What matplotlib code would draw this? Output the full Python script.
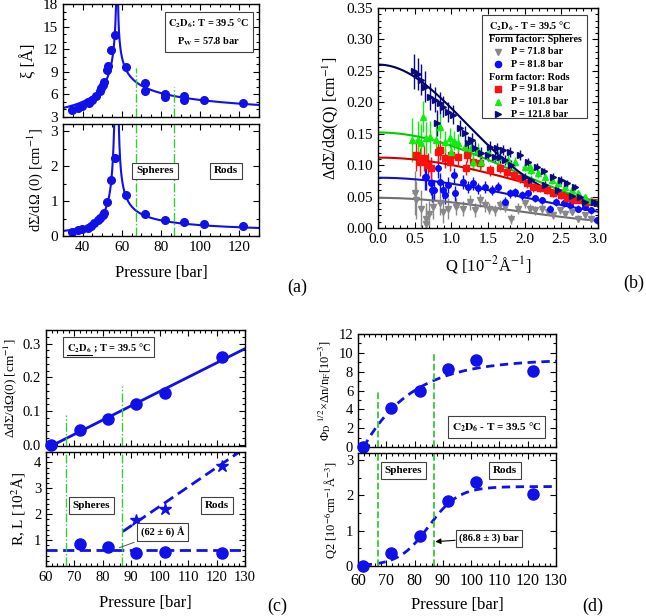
import numpy as np
import matplotlib
matplotlib.use('Agg')
import matplotlib.pyplot as plt
from matplotlib.ticker import MultipleLocator, FormatStrFormatter

plt.rcParams['font.family'] = ['Liberation Serif', 'DejaVu Serif']
plt.rcParams['mathtext.fontset'] = 'stix'
plt.rcParams['xtick.direction'] = 'in'
plt.rcParams['ytick.direction'] = 'in'
plt.rcParams['xtick.top'] = True
plt.rcParams['ytick.right'] = True
plt.rcParams['xtick.major.size'] = 4
plt.rcParams['ytick.major.size'] = 4
plt.rcParams['xtick.minor.size'] = 2
plt.rcParams['ytick.minor.size'] = 2
plt.rcParams['xtick.minor.visible'] = True
plt.rcParams['ytick.minor.visible'] = True

# ===== (a) correlation length and forward scattering vs pressure =====
P_W = 57.8
xi_p = [34.8, 37.7, 39.8, 43.0, 43.5, 44.7, 46.8, 48.8, 49.3, 50.2, 50.7, 52.7,
        53.0, 54.3, 56.3, 62.3, 71.8, 71.8, 81.8, 81.8, 91.8, 91.8, 101.8, 121.8]
xi_v = [3.9, 4.2, 4.4, 5.0, 4.8, 5.3, 5.8, 6.5, 6.8, 7.3, 7.7, 9.3,
        9.8, 11.9, 13.9, 9.6, 7.5, 6.5, 6.1, 5.6, 5.8, 5.3, 5.3, 4.9]
dS_p = [34.8, 37.7, 39.8, 43.0, 44.3, 46.0, 47.7, 48.8, 50.2, 50.7, 52.7, 54.3,
        56.3, 62.3, 71.8, 81.8, 91.8, 101.8, 121.8]
dS_v = [0.12, 0.16, 0.20, 0.24, 0.29, 0.36, 0.45, 0.52, 0.60, 0.65, 0.98, 1.59,
        2.24, 1.18, 0.62, 0.45, 0.39, 0.33, 0.28]
# fit parameters (amplitude, exponent) below / above P_W
xi_fit = {'low': (3.13, 0.40), 'high': (4.86, 0.25)}
dS_fit = {'low': (0.0648, 1.10), 'high': (0.26, 0.566)}

# ===== (b) scattering curves =====
q_gray = [0.50, 0.52, 0.59, 0.66, 0.66, 0.70, 0.75, 0.84, 0.89, 0.95, 1.07, 1.16,
          1.25, 1.32, 1.39, 1.46, 1.52, 1.59, 1.66, 1.73, 1.82, 1.91, 2.00, 2.07,
          2.14, 2.23, 2.32, 2.39, 2.48, 2.55, 2.64, 2.73, 2.82, 2.91]
i_gray = [0.055, 0.045, 0.031, 0.015, 0.007, 0.023, 0.034, 0.039, 0.026, 0.031, 0.034, 0.031,
          0.041, 0.028, 0.044, 0.036, 0.031, 0.028, 0.036, 0.034, 0.015, 0.031, 0.039, 0.031,
          0.028, 0.031, 0.026, 0.020, 0.028, 0.023, 0.026, 0.015, 0.020, 0.015]
e_gray = [0.035, 0.03, 0.03, 0.025, 0.025, 0.02, 0.02, 0.018, 0.018, 0.016, 0.014, 0.012,
          0.012, 0.011, 0.01, 0.01, 0.009, 0.009, 0.008, 0.008, 0.008, 0.008, 0.007, 0.007,
          0.007, 0.007, 0.006, 0.006, 0.006, 0.006, 0.006, 0.006, 0.006, 0.006]

q_blue = [0.64, 0.66, 0.72, 0.73, 0.77, 0.82, 0.84, 0.89, 0.91, 0.95, 1.03, 1.05,
          1.16, 1.23, 1.30, 1.36, 1.46, 1.55, 1.64, 1.73, 1.80, 1.87, 1.96, 2.05,
          2.14, 2.23, 2.34, 2.43, 2.53, 2.62, 2.73, 2.82, 2.91, 2.98]
i_blue = [0.081, 0.081, 0.071, 0.060, 0.060, 0.096, 0.073, 0.060, 0.052, 0.068, 0.084, 0.055,
          0.073, 0.065, 0.071, 0.063, 0.065, 0.060, 0.065, 0.041, 0.055, 0.057, 0.052, 0.055,
          0.047, 0.044, 0.031, 0.041, 0.039, 0.036, 0.031, 0.034, 0.028, 0.012]
e_blue = [0.02, 0.02, 0.018, 0.018, 0.016, 0.016, 0.015, 0.014, 0.014, 0.013, 0.012, 0.012,
          0.011, 0.01, 0.01, 0.009, 0.009, 0.008, 0.008, 0.008, 0.007, 0.007, 0.007, 0.006,
          0.006, 0.006, 0.006, 0.006, 0.005, 0.005, 0.005, 0.005, 0.005, 0.005]

q_red = [0.52, 0.57, 0.63, 0.68, 0.72, 0.82, 0.84, 0.91, 0.98, 1.00, 1.09, 1.20,
         1.21, 1.30, 1.39, 1.53, 1.66, 1.76, 1.85, 1.94, 2.03, 2.12, 2.21, 2.30,
         2.39, 2.49, 2.58, 2.67, 2.76, 2.85, 2.94]
i_red = [0.116, 0.105, 0.111, 0.100, 0.095, 0.121, 0.124, 0.111, 0.105, 0.116, 0.113, 0.095,
         0.116, 0.105, 0.103, 0.092, 0.095, 0.089, 0.084, 0.079, 0.071, 0.065, 0.063, 0.060,
         0.055, 0.052, 0.047, 0.044, 0.044, 0.041, 0.041]
e_red = [0.025, 0.022, 0.02, 0.02, 0.018, 0.016, 0.016, 0.015, 0.014, 0.013, 0.012, 0.011,
         0.011, 0.01, 0.01, 0.009, 0.008, 0.008, 0.008, 0.007, 0.007, 0.007, 0.006, 0.006,
         0.006, 0.006, 0.005, 0.005, 0.005, 0.005, 0.005]

q_green = [0.47, 0.54, 0.59, 0.62, 0.66, 0.71, 0.79, 0.84, 0.91, 0.98, 1.00, 1.04,
           1.09, 1.18, 1.27, 1.30, 1.36, 1.40, 1.50, 1.64, 1.77, 1.87, 2.00, 2.07,
           2.09, 2.18, 2.28, 2.37, 2.46, 2.55, 2.64, 2.73, 2.82, 2.91, 2.98]
i_green = [0.140, 0.140, 0.135, 0.177, 0.143, 0.145, 0.140, 0.161, 0.137, 0.143, 0.121, 0.139,
           0.135, 0.129, 0.127, 0.105, 0.124, 0.105, 0.121, 0.113, 0.108, 0.105, 0.097, 0.097,
           0.092, 0.087, 0.081, 0.076, 0.071, 0.065, 0.060, 0.055, 0.049, 0.044, 0.041]
e_green = [0.035, 0.03, 0.03, 0.025, 0.025, 0.025, 0.022, 0.02, 0.018, 0.016, 0.015, 0.015,
           0.014, 0.013, 0.012, 0.012, 0.011, 0.011, 0.01, 0.009, 0.008, 0.008, 0.007, 0.007,
           0.007, 0.007, 0.006, 0.006, 0.006, 0.006, 0.005, 0.005, 0.005, 0.005, 0.005]

q_navy = [0.49, 0.55, 0.59, 0.64, 0.71, 0.78, 0.80, 0.84, 0.89, 0.95, 1.02, 1.12,
          1.19, 1.23, 1.28, 1.32, 1.40, 1.50, 1.53, 1.59, 1.66, 1.73, 1.82, 1.94,
          2.00, 2.09, 2.17, 2.28, 2.39, 2.46, 2.58, 2.64, 2.76, 2.82, 2.94, 2.98,
          1.62, 1.70, 1.80, 2.05, 2.27, 2.50, 2.68]
i_navy = [0.249, 0.245, 0.236, 0.225, 0.209, 0.204, 0.167, 0.199, 0.193, 0.185, 0.180, 0.159,
          0.151, 0.135, 0.140, 0.127, 0.119, 0.116, 0.129, 0.113, 0.113, 0.108, 0.100, 0.116,
          0.081, 0.076, 0.097, 0.068, 0.081, 0.060, 0.071, 0.051, 0.049, 0.041, 0.041, 0.039,
          0.127, 0.124, 0.121, 0.105, 0.090, 0.076, 0.065]
e_navy = [0.028, 0.026, 0.025, 0.024, 0.022, 0.02, 0.02, 0.018, 0.017, 0.016, 0.015, 0.013,
          0.012, 0.012, 0.011, 0.011, 0.01, 0.01, 0.01, 0.009, 0.009, 0.008, 0.008, 0.008,
          0.007, 0.007, 0.007, 0.006, 0.006, 0.006, 0.006, 0.006, 0.005, 0.005, 0.005, 0.005,
          0.009, 0.008, 0.008, 0.007, 0.006, 0.006, 0.005]

# form factor fits: I(0), decay constant, flat background
fits_b = {
    '71.8': (0.048, 0.16, 0.0),
    '81.8': (0.080, 0.125, 0.0),
    '91.8': (0.112, 0.11, 0.0),
    '101.8': (0.152, 0.15, 0.0),
    '121.8': (0.26, 0.35, 0.025),
}

# ===== (c) intensity, radius and length =====
SPHERE_P = 67.0
ROD_P = 86.8
c_p = [61.8, 71.8, 81.8, 91.8, 101.8, 121.8]
c_dI = [0.0, 0.045, 0.078, 0.12, 0.153, 0.26]
dI_slope, dI_p0 = 0.00422, 62.5
R_p = [71.8, 81.8, 91.8, 101.8, 121.8]
R_v = [0.83, 0.72, 0.50, 0.55, 0.52]
L_p = [91.8, 101.8, 121.8]
L_v = [1.78, 2.20, 3.85]
R_mean = 0.62
L_line_p = [87.0, 130.0]
L_line_v = [1.33, 4.55]

# ===== (d) amplitude and Q2 =====
d_p = [61.8, 71.8, 81.8, 91.8, 101.8, 121.8]
phi_v = [0.0, 4.1, 5.9, 8.3, 9.2, 8.1]
q2_v = [0.0, 0.37, 0.85, 1.83, 2.38, 2.05]
phi_fit = (9.3, 62.0, 17.4)     # plateau, onset, width
q2_fit = (2.25, 85.0, 5.3)      # plateau, midpoint, width

BLUE = '#1010e8'
LGREEN = '#33cc33'
BOX = dict(boxstyle='square,pad=0.35', fc='white', ec='#404040', lw=0.8)

W, H = 646, 616
fig = plt.figure(figsize=(W / 100, H / 100), dpi=100)


def add_ax(l, t, r, b):
    return fig.add_axes([l / W, 1 - b / H, (r - l) / W, (b - t) / H])


def style(ax, fs=11):
    ax.tick_params(which='both', labelsize=fs, width=0.8)
    for s in ax.spines.values():
        s.set_linewidth(1.0)


def underline(ax, txt):
    fig.canvas.draw()
    bb = txt.get_window_extent()
    y = (bb.y0 - 1.5) / H
    fig.add_artist(plt.Line2D([bb.x0 / W, bb.x1 / W], [y, y], color='black', lw=0.8))


# ---------- (a) ----------
ax = add_ax(63, 4, 259, 117)
p_lo = np.linspace(30, P_W - 0.01, 600)
p_hi = np.linspace(P_W + 0.01, 130, 600)
ax.plot(p_lo, xi_fit['low'][0] * (1 - p_lo / P_W) ** (-xi_fit['low'][1]), color=BLUE, lw=1.5)
ax.plot(p_hi, xi_fit['high'][0] * (p_hi / P_W - 1) ** (-xi_fit['high'][1]), color=BLUE, lw=1.5)
ax.plot(xi_p, xi_v, 'o', color=BLUE, ms=5.5)
ax.vlines(SPHERE_P, 3, 9.5, color=LGREEN, ls='-.', lw=1)
ax.vlines(ROD_P, 3, 7.0, color=LGREEN, ls='-.', lw=1)
ax.set_xlim(30, 130)
ax.set_ylim(3, 18)
ax.yaxis.set_major_locator(MultipleLocator(3))
ax.xaxis.set_major_locator(MultipleLocator(20))
ax.xaxis.set_minor_locator(MultipleLocator(5))
ax.yaxis.set_minor_locator(MultipleLocator(1))
ax.set_xticklabels([])
ax.set_ylabel('ξ [Å]', fontsize=12)
ax.text(0.745, 0.75, '$\\mathbf{C_2D_6}$: T = 39.5 °C\nP$_\\mathbf{W}$ = 57.8 bar', transform=ax.transAxes,
        ha='center', va='center', fontsize=7.5, fontweight='bold', bbox=BOX, linespacing=1.7)
style(ax)

ax = add_ax(63, 124, 259, 236)
ax.plot(p_lo, dS_fit['low'][0] * (1 - p_lo / P_W) ** (-dS_fit['low'][1]), color=BLUE, lw=1.5)
ax.plot(p_hi, dS_fit['high'][0] * (p_hi / P_W - 1) ** (-dS_fit['high'][1]), color=BLUE, lw=1.5)
ax.plot(dS_p, dS_v, 'o', color=BLUE, ms=5.5)
ax.axvline(SPHERE_P, color=LGREEN, ls='-.', lw=1)
ax.axvline(ROD_P, color=LGREEN, ls='-.', lw=1)
ax.set_xlim(30, 130)
ax.set_ylim(0, 3.2)
ax.xaxis.set_major_locator(MultipleLocator(20))
ax.xaxis.set_minor_locator(MultipleLocator(5))
ax.yaxis.set_major_locator(MultipleLocator(1))
ax.yaxis.set_minor_locator(MultipleLocator(0.5))
ax.text(77, 1.86, 'Spheres', ha='center', va='center', fontsize=8, fontweight='bold', bbox=BOX)
ax.text(113, 1.86, 'Rods', ha='center', va='center', fontsize=8, fontweight='bold', bbox=BOX)
ax.set_ylabel('dΣ/dΩ (0) [cm$^{-1}$]', fontsize=10.5)
ax.set_xlabel('Pressure [bar]', fontsize=12, labelpad=8)
style(ax)
fig.align_ylabels(fig.axes[:2])

# ---------- (b) ----------
ax = add_ax(378, 8, 598, 228)
series = [
    ('71.8', q_gray, i_gray, e_gray, 'v', '#888888', '#707070'),
    ('81.8', q_blue, i_blue, e_blue, 'o', '#0a0aff', '#1010c8'),
    ('91.8', q_red, i_red, e_red, 's', '#ff1010', '#d00000'),
    ('101.8', q_green, i_green, e_green, '^', '#10ee10', '#00cc00'),
    ('121.8', q_navy, i_navy, e_navy, '>', '#0a0a80', '#000060'),
]
qq = np.linspace(0, 3.0, 300)
for key, q, i, e, mk, col, lcol in series:
    ax.errorbar(q, i, yerr=e, xerr=0.03, fmt=mk, color=col, ms=4, elinewidth=1, capsize=0)
for key, q, i, e, mk, col, lcol in series:
    i0, k, bg = fits_b[key]
    ax.plot(qq, (i0 - bg) * np.exp(-k * qq ** 2) + bg, color=lcol, lw=1.5)
ax.set_xlim(0, 3.0)
ax.set_ylim(0, 0.35)
ax.xaxis.set_major_locator(MultipleLocator(0.5))
ax.xaxis.set_minor_locator(MultipleLocator(0.1))
ax.yaxis.set_major_locator(MultipleLocator(0.05))
ax.yaxis.set_minor_locator(MultipleLocator(0.01))
ax.xaxis.set_major_formatter(FormatStrFormatter('%.1f'))
ax.yaxis.set_major_formatter(FormatStrFormatter('%.2f'))
ax.set_xlabel('Q [10$^{-2}$Å$^{-1}$]', fontsize=12, labelpad=6)
ax.set_ylabel('ΔdΣ/dΩ(Q) [cm$^{-1}$]', fontsize=11.5)
# legend drawn by hand
ax.add_patch(plt.Rectangle((0.473, 0.50), 0.477, 0.468, transform=ax.transAxes,
                           fc='white', ec='#404040', lw=0.8, zorder=5))
lx_head, lx_mark, lx_txt = 0.505, 0.545, 0.605
LFS = 7.3
t_title = ax.text(lx_head, 0.918, '$\\mathbf{C_2D_6}$ - T = 39.5 °C', transform=ax.transAxes,
                  va='center', fontsize=LFS, fontweight='bold', zorder=6)
ax.text(lx_head, 0.859, 'Form factor: Spheres', transform=ax.transAxes, va='center',
        fontsize=LFS, fontweight='bold', zorder=6)
ax.text(lx_head, 0.686, 'Form factor: Rods', transform=ax.transAxes, va='center',
        fontsize=LFS, fontweight='bold', zorder=6)
rows = [0.80, 0.745, 0.632, 0.573, 0.518]
for (key, q, i, e, mk, col, lcol), yy in zip(series, rows):
    ax.plot([lx_mark], [yy], mk, color=col, ms=4.5, transform=ax.transAxes, zorder=6, clip_on=False)
    ax.text(lx_txt, yy, f'P = {key} bar', transform=ax.transAxes, va='center',
            fontsize=LFS, fontweight='bold', zorder=6)
style(ax)
underline(ax, t_title)

# ---------- (c) ----------
ax = add_ax(46, 330, 245, 446)
pl = np.array([dI_p0, 130])
ax.plot(pl, dI_slope * (pl - dI_p0), color=BLUE, lw=2)
ax.plot(c_p, c_dI, 'o', color=BLUE, ms=8, clip_on=False, zorder=5)
ax.vlines(SPHERE_P, -0.003, 0.09, color=LGREEN, ls='-.', lw=1)
ax.vlines(ROD_P, -0.003, 0.175, color=LGREEN, ls='-.', lw=1)
ax.set_xlim(60, 130)
ax.set_ylim(-0.003, 0.34)
ax.xaxis.set_major_locator(MultipleLocator(10))
ax.xaxis.set_minor_locator(MultipleLocator(2))
ax.yaxis.set_major_locator(MultipleLocator(0.1))
ax.yaxis.set_minor_locator(MultipleLocator(0.02))
ax.yaxis.set_major_formatter(FormatStrFormatter('%.1f'))
ax.set_xticklabels([])
ax.set_ylabel('ΔdΣ/dΩ(0) [cm$^{-1}$]', fontsize=9.5, labelpad=3)
t_full = ax.text(0.105, 0.853, '$\\mathbf{C_2D_6}$ ; T = 39.5 °C', transform=ax.transAxes,
                 va='center', ha='left', fontsize=7.5, fontweight='bold', bbox=BOX)
t_part = ax.text(0.105, 0.853, '$\\mathbf{C_2D_6}$', transform=ax.transAxes,
                 va='center', ha='left', fontsize=7.5, fontweight='bold', alpha=0)
style(ax, 10.5)
ax_c1 = ax

ax = add_ax(46, 452, 245, 566)
ax.axhline(R_mean, color=BLUE, ls=(0, (4, 2)), lw=2)
ax.plot(L_line_p, L_line_v, color=BLUE, ls=(0, (4, 2)), lw=2)
ax.plot(R_p, R_v, 'o', color=BLUE, ms=8)
ax.plot(L_p, L_v, '*', color=BLUE, ms=9)
ax.axvline(SPHERE_P, color=LGREEN, ls='-.', lw=1)
ax.axvline(ROD_P, color=LGREEN, ls='-.', lw=1)
ax.set_xlim(60, 130)
ax.set_ylim(0, 4.4)
ax.xaxis.set_major_locator(MultipleLocator(10))
ax.xaxis.set_minor_locator(MultipleLocator(2))
ax.set_yticks([1, 2, 3, 4])
ax.yaxis.set_minor_locator(MultipleLocator(0.2))
ax.text(76, 2.35, 'Spheres', ha='center', va='center', fontsize=8, fontweight='bold', bbox=BOX)
ax.text(120, 2.35, 'Rods', ha='center', va='center', fontsize=8, fontweight='bold', bbox=BOX)
ax.annotate('(62 ± 6) Å', xy=(84.9, R_mean + 0.05), xytext=(101, 1.31), ha='center', va='center',
            fontsize=7.5, fontweight='bold', bbox=BOX,
            arrowprops=dict(arrowstyle='-', color='#555555', lw=0.7))
ax.set_ylabel('R, L [10$^{2}$Å]', fontsize=11)
ax.set_xlabel('Pressure [bar]', fontsize=12, labelpad=8)
style(ax, 10.5)
fig.align_ylabels([ax_c1, ax])

# ---------- (d) ----------
ax = add_ax(358, 334, 556, 447)
pp = np.linspace(phi_fit[1], 130, 300)
ax.plot(pp, phi_fit[0] * (1 - np.exp(-(pp - phi_fit[1]) / phi_fit[2])), color=BLUE, ls=(0, (3, 2)), lw=2)
ax.plot(d_p, phi_v, 'o', color=BLUE, ms=8, clip_on=False, zorder=5)
ax.vlines(SPHERE_P, 0, 6, color=LGREEN, ls='--', lw=1.3)
ax.vlines(ROD_P, 0, 10, color=LGREEN, ls='--', lw=1.3)
ax.set_xlim(60, 130)
ax.set_ylim(0, 12)
ax.xaxis.set_major_locator(MultipleLocator(10))
ax.xaxis.set_minor_locator(MultipleLocator(2))
ax.yaxis.set_major_locator(MultipleLocator(2))
ax.yaxis.set_minor_locator(MultipleLocator(1))
ax.set_xticklabels([])
ax.set_ylabel('Φ$_\\mathrm{D}$ $^{1/2}$×Δn/n$_\\mathrm{F}$[10$^{-3}$]', fontsize=9)
ax.text(0.70, 0.177, '$\\mathbf{C_2D_6}$ - T = 39.5 °C', transform=ax.transAxes,
        ha='center', va='center', fontsize=8, fontweight='bold', bbox=BOX)
style(ax, 11.5)
ax.tick_params(axis='y', labelsize=10.5)
ax_d1 = ax

ax = add_ax(358, 453, 556, 566)
pp = np.linspace(62, 130, 300)
ax.plot(pp, q2_fit[0] / (1 + np.exp(-(pp - q2_fit[1]) / q2_fit[2])), color=BLUE, ls=(0, (3, 2)), lw=2)
ax.plot(d_p, q2_v, 'o', color=BLUE, ms=8, clip_on=False, zorder=5)
ax.axvline(SPHERE_P, color=LGREEN, ls='--', lw=1.3)
ax.axvline(ROD_P, color=LGREEN, ls='--', lw=1.3)
ax.set_xlim(60, 130)
ax.set_ylim(0, 3.2)
ax.xaxis.set_major_locator(MultipleLocator(10))
ax.xaxis.set_minor_locator(MultipleLocator(2))
ax.yaxis.set_major_locator(MultipleLocator(1))
ax.yaxis.set_minor_locator(MultipleLocator(0.5))
ax.text(76, 2.7, 'Spheres', ha='center', va='center', fontsize=8, fontweight='bold', bbox=BOX)
ax.text(112, 2.7, 'Rods', ha='center', va='center', fontsize=8, fontweight='bold', bbox=BOX)
ax.annotate('(86.8 ± 3) bar', xy=(87.3, 0.69), xytext=(106.3, 0.79), ha='center', va='center',
            fontsize=7.5, fontweight='bold', bbox=BOX,
            arrowprops=dict(arrowstyle='-|>', color='black', lw=0.8, mutation_scale=8,
                            shrinkA=0, shrinkB=0))
ax.set_ylabel('Q2 [10$^{-6}$cm$^{-1}$Å$^{-3}$]', fontsize=9)
ax.set_xlabel('Pressure [bar]', fontsize=12, labelpad=6)
style(ax, 11.5)
ax.tick_params(axis='y', labelsize=10.5)
ax.tick_params(axis='x', pad=5)
fig.align_ylabels([ax_d1, ax])

for lab, x, y in [('(a)', 297, 287), ('(b)', 634, 283), ('(c)', 277, 606), ('(d)', 593, 606)]:
    fig.text(x / W, 1 - y / H, lab, ha='center', va='center', fontsize=13)

underline(ax_c1, t_part)
fig.savefig('out.png', dpi=100)
